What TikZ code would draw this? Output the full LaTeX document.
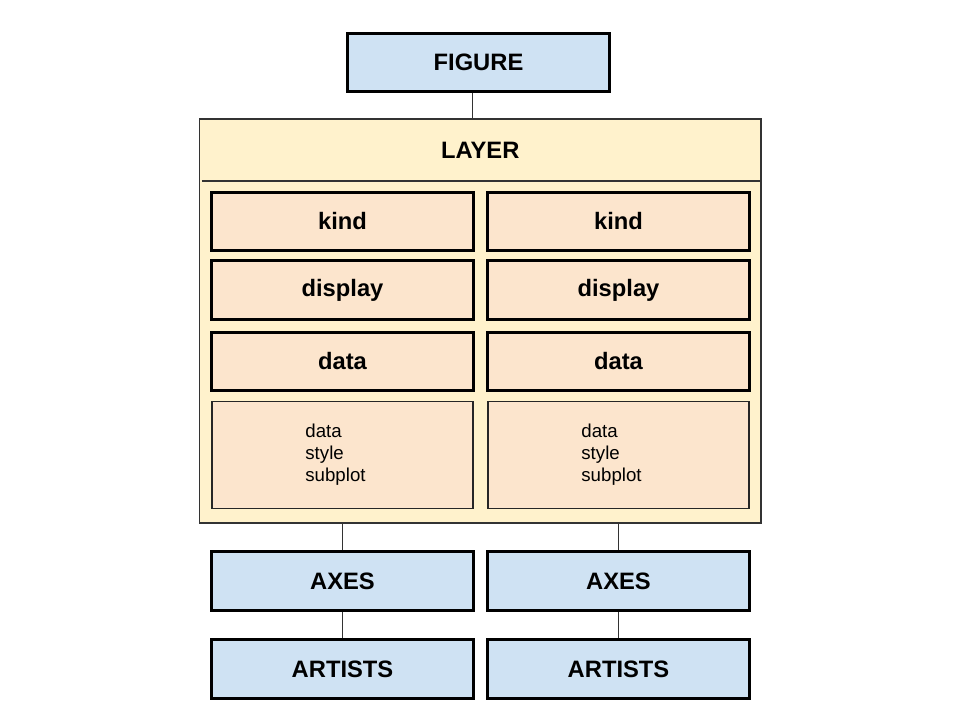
\documentclass[tikz,border=0pt]{standalone}
\usepackage{fontspec}
\setmainfont{Liberation Sans}
\usepackage{tikz}
\usetikzlibrary{positioning}
\definecolor{boxblue}{HTML}{CFE2F3}
\definecolor{boxyellow}{HTML}{FFF2CC}
\definecolor{boxorange}{HTML}{FCE5CD}
\begin{document}
\begin{tikzpicture}[x=0.75pt,y=-0.75pt,
  blockbox/.style={draw=black,line width=2.2pt,fill=boxblue,minimum width=196pt,minimum height=44pt,
    inner sep=0pt,font=\fontsize{17.8}{20}\selectfont\bfseries},
  fieldbox/.style={blockbox,fill=boxorange},
  listbox/.style={draw=black!85,line width=1.1pt,fill=boxorange,minimum width=196pt,minimum height=80pt,
    inner sep=0pt,align=left,font=\fontsize{14}{16.5}\selectfont},
  layerbox/.style={draw=black!80,line width=1.1pt,fill=boxyellow,minimum width=421pt,minimum height=303pt,inner sep=0pt},
  link/.style={draw=black!80,line width=1pt}]
\useasboundingbox (0,0) rectangle (960,720);
\node[blockbox] (figure) at (478.5,62.5) {FIGURE};
\node[layerbox] (layer) at (480.25,321) {};
\node[minimum width=421pt,minimum height=46pt,inner sep=0pt,font=\fontsize{17.8}{20}\selectfont\bfseries] (title) at (480.25,150) {LAYER};
\draw[link] ([xshift=2pt]title.south west) -- (title.south east);
\node[fieldbox] (kindL) at (342.5,221.5) {kind};
\node[fieldbox] (kindR) at (618.5,221.5) {kind};
\node[fieldbox] (displayL) at (342.5,290) {display};
\node[fieldbox] (displayR) at (618.5,290) {display};
\node[fieldbox] (dataL) at (342.5,361.5) {data};
\node[fieldbox] (dataR) at (618.5,361.5) {data};
\node[listbox] (listL) at (342.5,455) {data\\style\\subplot\hspace*{10.5pt}};
\node[listbox] (listR) at (618.5,455) {data\\style\\subplot\hspace*{10.5pt}};
\node[blockbox] (axesL) at (342.5,581) {AXES};
\node[blockbox] (axesR) at (618.5,581) {AXES};
\node[blockbox] (artistsL) at (342.5,669) {ARTISTS};
\node[blockbox] (artistsR) at (618.5,669) {ARTISTS};
\draw[link] ([xshift=-4.5pt]figure.south) -- ([xshift=-4.5pt]figure.south |- layer.north);
\draw[link] (axesL.north |- layer.south) -- (axesL.north);
\draw[link] (axesR.north |- layer.south) -- (axesR.north);
\draw[link] (axesL.south) -- (artistsL.north);
\draw[link] (axesR.south) -- (artistsR.north);
\end{tikzpicture}
\end{document}
